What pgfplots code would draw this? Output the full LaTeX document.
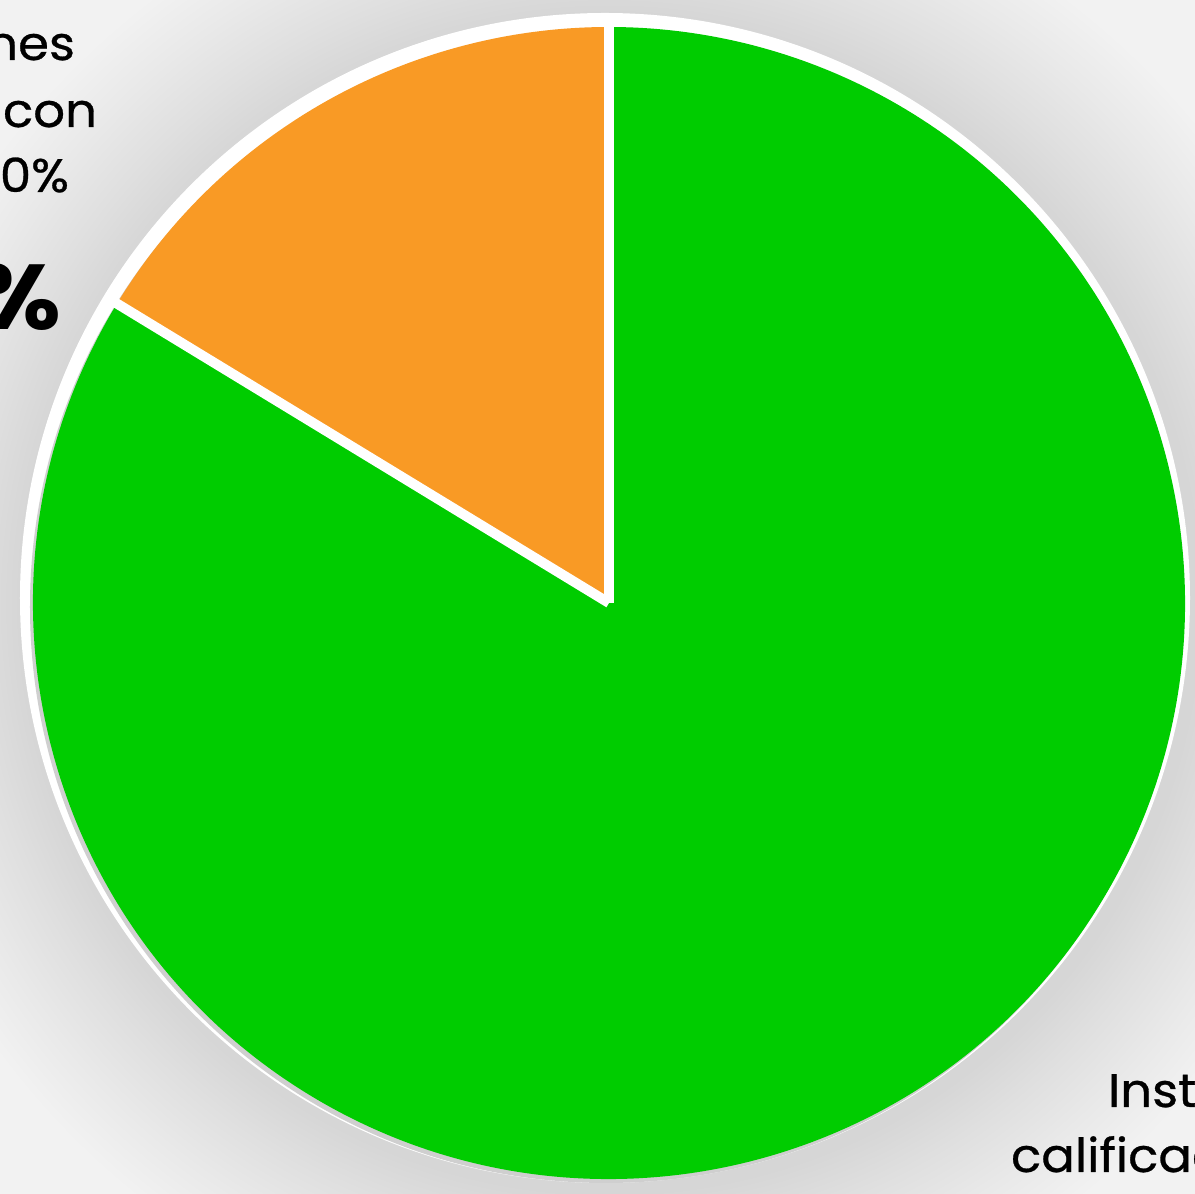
\documentclass[border=0pt]{standalone}
\usepackage{pgfplots}
\pgfplotsset{compat=1.18}
\usepackage{pgfplotstable}
\usepackage{fontspec}
\setmainfont{Poppins}
\newfontfamily\labfont[FakeBold=0.6]{Poppins}
\definecolor{bg}{HTML}{F2F2F2}
\definecolor{shd}{HTML}{D6D6D6}
\definecolor{shb}{HTML}{DFDFDF}
\definecolor{shc}{HTML}{E9E9E9}
\definecolor{pgreen}{HTML}{00CC00}
\definecolor{porange}{HTML}{F99A25}
\definecolor{edgegray}{HTML}{CFCFCF}
\pgfdeclareradialshading{pieshadow}{\pgfpoint{0bp}{0bp}}{color(0bp)=(shd); color(19.4bp)=(shd); color(21bp)=(shb); color(23bp)=(shc); color(25bp)=(bg); color(50bp)=(bg)}

\pgfplotstableread{
slice value
Naranja 16.3
Verde 83.7
}\piedata

\begin{document}%
\begin{tikzpicture}
\pgfplotstablegetelem{0}{value}\of\piedata \let\va\pgfplotsretval
\pgfplotstablegetelem{1}{value}\of\piedata \let\vb\pgfplotsretval
\pgfmathsetmacro\aA{90+3.6*\va}
\pgfmathsetmacro\aB{\aA+3.6*\vb}
\begin{axis}[at={(0,0)},anchor=south west,x=0.5pt,y=0.5pt,
  xmin=0,xmax=1195,ymin=0,ymax=1194,hide axis,clip=false]
\fill[bg] (axis cs:-50,-50) rectangle (axis cs:1245,1244);
\shade[shading=pieshadow] (axis cs:609,591) circle[radius=380pt];
\fill[white] (axis cs:605,596) circle[radius=292.5pt];
\fill[edgegray] (axis cs:606,587) circle[radius=288pt];
\fill[porange] (axis cs:609,591) -- +(90:288pt) arc[start angle=90,end angle=\aA,radius=288pt] -- cycle;
\fill[pgreen] (axis cs:609,591) -- +(\aA:288pt) arc[start angle=\aA,end angle=\aB,radius=288pt] -- cycle;
\draw[white,line width=5pt] (axis cs:609,591) -- +(90:290pt);
\draw[white,line width=5pt] (axis cs:609,591) -- +(\aA:290pt);
\begin{scope}[every node/.style={inner sep=0pt,outer sep=0pt,xscale=1.06}]
\node[anchor=base east,font=\labfont\fontsize{23.5}{28}\selectfont] at (axis cs:75,1134) {Instituciones};
\node[anchor=base east,font=\labfont\fontsize{23.5}{28}\selectfont] at (axis cs:97,1067) {calificadas con};
\node[anchor=base east,font=\labfont\fontsize{23.5}{28}\selectfont] at (axis cs:69,1002) {menos de 100\%};
\node[anchor=base east,font=\fontsize{46}{50}\selectfont\bfseries] at (axis cs:61,864) {16\%};
\node[anchor=base west,font=\labfont\fontsize{23.5}{28}\selectfont] at (axis cs:1108,87) {Instituciones};
\node[anchor=base west,font=\labfont\fontsize{23.5}{28}\selectfont] at (axis cs:1011,22) {calificación mayor};
\end{scope}
\coordinate (LL) at (axis cs:0,0);
\coordinate (UR) at (axis cs:1195,1194);
\end{axis}
\pgfresetboundingbox
\useasboundingbox (LL) rectangle (UR);
\end{tikzpicture}%
\end{document}
